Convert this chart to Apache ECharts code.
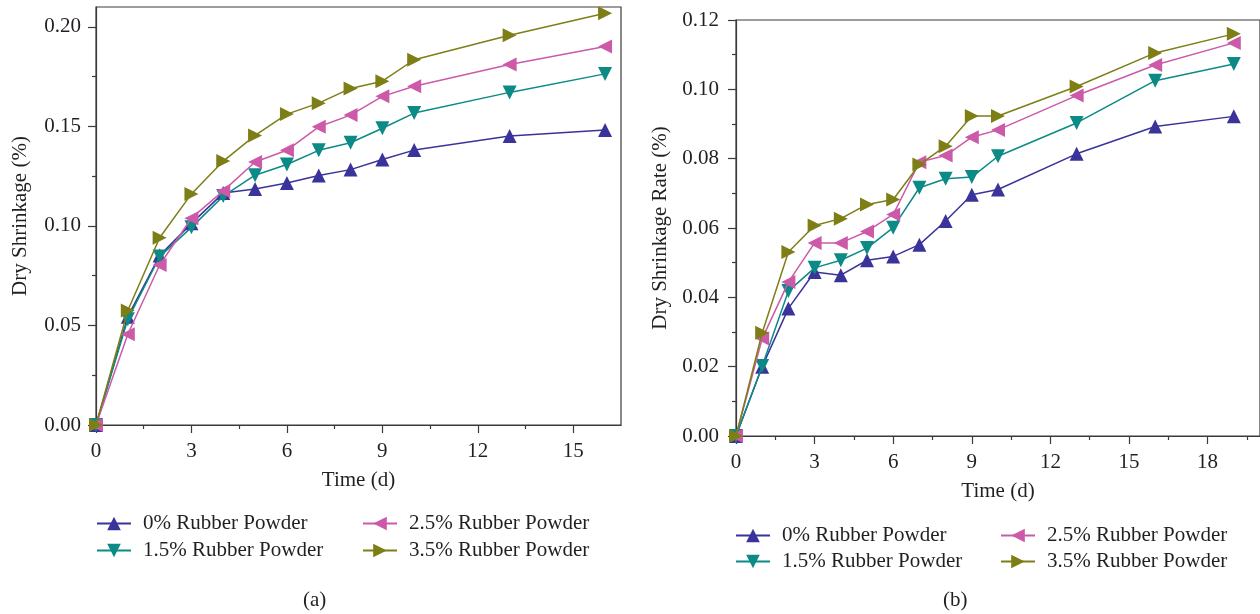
<!DOCTYPE html>
<html><head><meta charset="utf-8">
<script src="https://cdn.jsdelivr.net/npm/echarts@6/dist/echarts.min.js"></script>
<style>html,body{margin:0;padding:0;background:#fff}#c{width:1260px;height:614px}</style>
</head><body><div id="c"></div><script>
// ---- data (a) ----
const daysA=[0,1,2,3,4,5,6,7,8,9,10,13,16];
const a0 =[0,0.0544,0.0851,0.1013,0.1165,0.1186,0.1216,0.1253,0.1283,0.1334,0.1381,0.1452,0.1482];
const a15=[0,0.0531,0.0846,0.0993,0.1150,0.1255,0.1309,0.1380,0.1418,0.1491,0.1567,0.1671,0.1764];
const a25=[0,0.0456,0.0804,0.1039,0.1176,0.1321,0.1380,0.1498,0.1557,0.1651,0.1702,0.1811,0.1902];
const a35=[0,0.0575,0.0941,0.1161,0.1326,0.1455,0.1562,0.1617,0.1691,0.1727,0.1835,0.1958,0.2069];
// ---- data (b) ----
const daysB=[0,1,2,3,4,5,6,7,8,9,10,13,16,19];
const b0 =[0,0.0200,0.0368,0.0473,0.0464,0.0507,0.0518,0.0552,0.0620,0.0696,0.0711,0.0814,0.0893,0.0922];
const b15=[0,0.0202,0.0418,0.0485,0.0507,0.0542,0.0601,0.0716,0.0742,0.0747,0.0807,0.0903,0.1025,0.1073];
const b25=[0,0.0281,0.0444,0.0557,0.0557,0.0590,0.0639,0.0790,0.0809,0.0862,0.0883,0.0982,0.1070,0.1134];
const b35=[0,0.0298,0.0531,0.0607,0.0627,0.0668,0.0682,0.0783,0.0836,0.0923,0.0923,0.1008,0.1105,0.1160];
// ---- ticks ----
const xTicksA=[0,3,6,9,12,15];
const xMinorA=[1.5,4.5,7.5,10.5,13.5];
const yTicksA=[0,0.05,0.10,0.15,0.20];
const yMinorA=[0.025,0.075,0.125,0.175];
const xTicksB=[0,3,6,9,12,15,18];
const xMinorB=[1.5,4.5,7.5,10.5,13.5,16.5,19.5];
const yTicksB=[0,0.02,0.04,0.06,0.08,0.10,0.12];
const yMinorB=[0.01,0.03,0.05,0.07,0.09,0.11];
const names=['0% Rubber Powder','1.5% Rubber Powder','2.5% Rubber Powder','3.5% Rubber Powder'];

const colors=['#3a3399','#0b8a86','#cc5aa9','#7e7e16'];
const rotations=[0,180,90,-90];
const FONT='Liberation Serif';
const FS=21;
const TXT='#231f20';
const AX='#3a3a3a';

function zip(x,y){return x.map((v,i)=>[v,y[i]]);}

function mainX(grid,min,max,ticks,name,gap,margin){
  return {type:'value',gridIndex:grid,min:min,max:max,position:'bottom',
    name:name,nameLocation:'middle',nameGap:gap,
    nameTextStyle:{fontFamily:FONT,fontSize:FS,color:TXT},
    axisLine:{show:true,lineStyle:{color:AX,width:1.2}},
    axisTick:{show:true,inside:false,length:8,customValues:ticks,lineStyle:{color:AX,width:1.2}},
    axisLabel:{show:true,customValues:ticks,margin:margin,fontFamily:FONT,fontSize:FS,color:TXT},
    splitLine:{show:false}};
}
function mainY(grid,min,max,ticks,name,gap,margin){
  return {type:'value',gridIndex:grid,min:min,max:max,position:'left',
    name:name,nameLocation:'middle',nameGap:gap,
    nameTextStyle:{fontFamily:FONT,fontSize:FS,color:TXT},
    axisLine:{show:true,lineStyle:{color:AX,width:1.2}},
    axisTick:{show:true,inside:false,length:8,customValues:ticks,lineStyle:{color:AX,width:1.2}},
    axisLabel:{show:true,customValues:ticks,margin:margin,fontFamily:FONT,fontSize:FS,color:TXT,
      formatter:v=>v.toFixed(2)},
    splitLine:{show:false}};
}
function minorAxis(grid,min,max,ticks,pos){
  return {type:'value',gridIndex:grid,min:min,max:max,position:pos,
    axisLine:{show:false},
    axisTick:{show:true,inside:false,length:4,customValues:ticks,lineStyle:{color:AX,width:1.2}},
    axisLabel:{show:false},splitLine:{show:false}};
}

const gA={left:96,top:7,width:525,bottom:189};
const gB={left:736,top:20,width:539,bottom:178};

const series=[];
[a0,a15,a25,a35].forEach((d,i)=>{
  series.push({type:'line',name:names[i],xAxisIndex:0,yAxisIndex:0,data:zip(daysA,d),
    symbol:'triangle',symbolSize:14,symbolRotate:rotations[i],
    lineStyle:{width:1.5,color:colors[i]},itemStyle:{color:colors[i]},z:2+i});
});
[b0,b15,b25,b35].forEach((d,i)=>{
  series.push({type:'line',name:names[i],xAxisIndex:2,yAxisIndex:2,data:zip(daysB,d),
    symbol:'triangle',symbolSize:14,symbolRotate:rotations[i],
    lineStyle:{width:1.5,color:colors[i]},itemStyle:{color:colors[i]},z:2+i});
});

function legendAt(name,left,top){
  return {data:[name],left:left,top:top,orient:'horizontal',padding:0,
    itemWidth:34,itemHeight:17,selectedMode:false,
    textStyle:{fontFamily:FONT,fontSize:FS,color:TXT,padding:[0,0,0,7]}};
}

const option={
  animation:false,
  backgroundColor:'#fff',
  grid:[
    Object.assign({show:true,borderColor:AX,borderWidth:1.2,backgroundColor:'transparent'},gA),
    Object.assign({show:false},gA),
    Object.assign({show:true,borderColor:AX,borderWidth:1.2,backgroundColor:'transparent'},gB),
    Object.assign({show:false},gB)
  ],
  xAxis:[
    mainX(0,0,16.5,xTicksA,'Time (d)',45,16),
    minorAxis(1,0,16.5,xMinorA,'bottom'),
    mainX(2,0,20,xTicksB,'Time (d)',45,16),
    minorAxis(3,0,20,xMinorB,'bottom')
  ],
  yAxis:[
    mainY(0,0,0.21,yTicksA,'Dry Shrinkage (%)',65,15),
    minorAxis(1,0,0.21,yMinorA,'left'),
    mainY(2,0,0.12,yTicksB,'Dry Shrinkage Rate (%)',65,17),
    minorAxis(3,0,0.12,yMinorB,'left')
  ],
  legend:[
    legendAt(names[0],96,513),legendAt(names[2],362,513),
    legendAt(names[1],96,540),legendAt(names[3],362,540),
    legendAt(names[0],735,525),legendAt(names[2],1000,525),
    legendAt(names[1],735,551),legendAt(names[3],1000,551)
  ],
  graphic:[
    {type:'text',left:303,top:590,style:{text:'(a)',font:'21px "Liberation Serif"',fill:TXT}},
    {type:'text',left:943,top:590,style:{text:'(b)',font:'21px "Liberation Serif"',fill:TXT}}
  ],
  series:series
};
echarts.init(document.getElementById('c'),null,{renderer:'canvas'}).setOption(option);
</script></body></html>
